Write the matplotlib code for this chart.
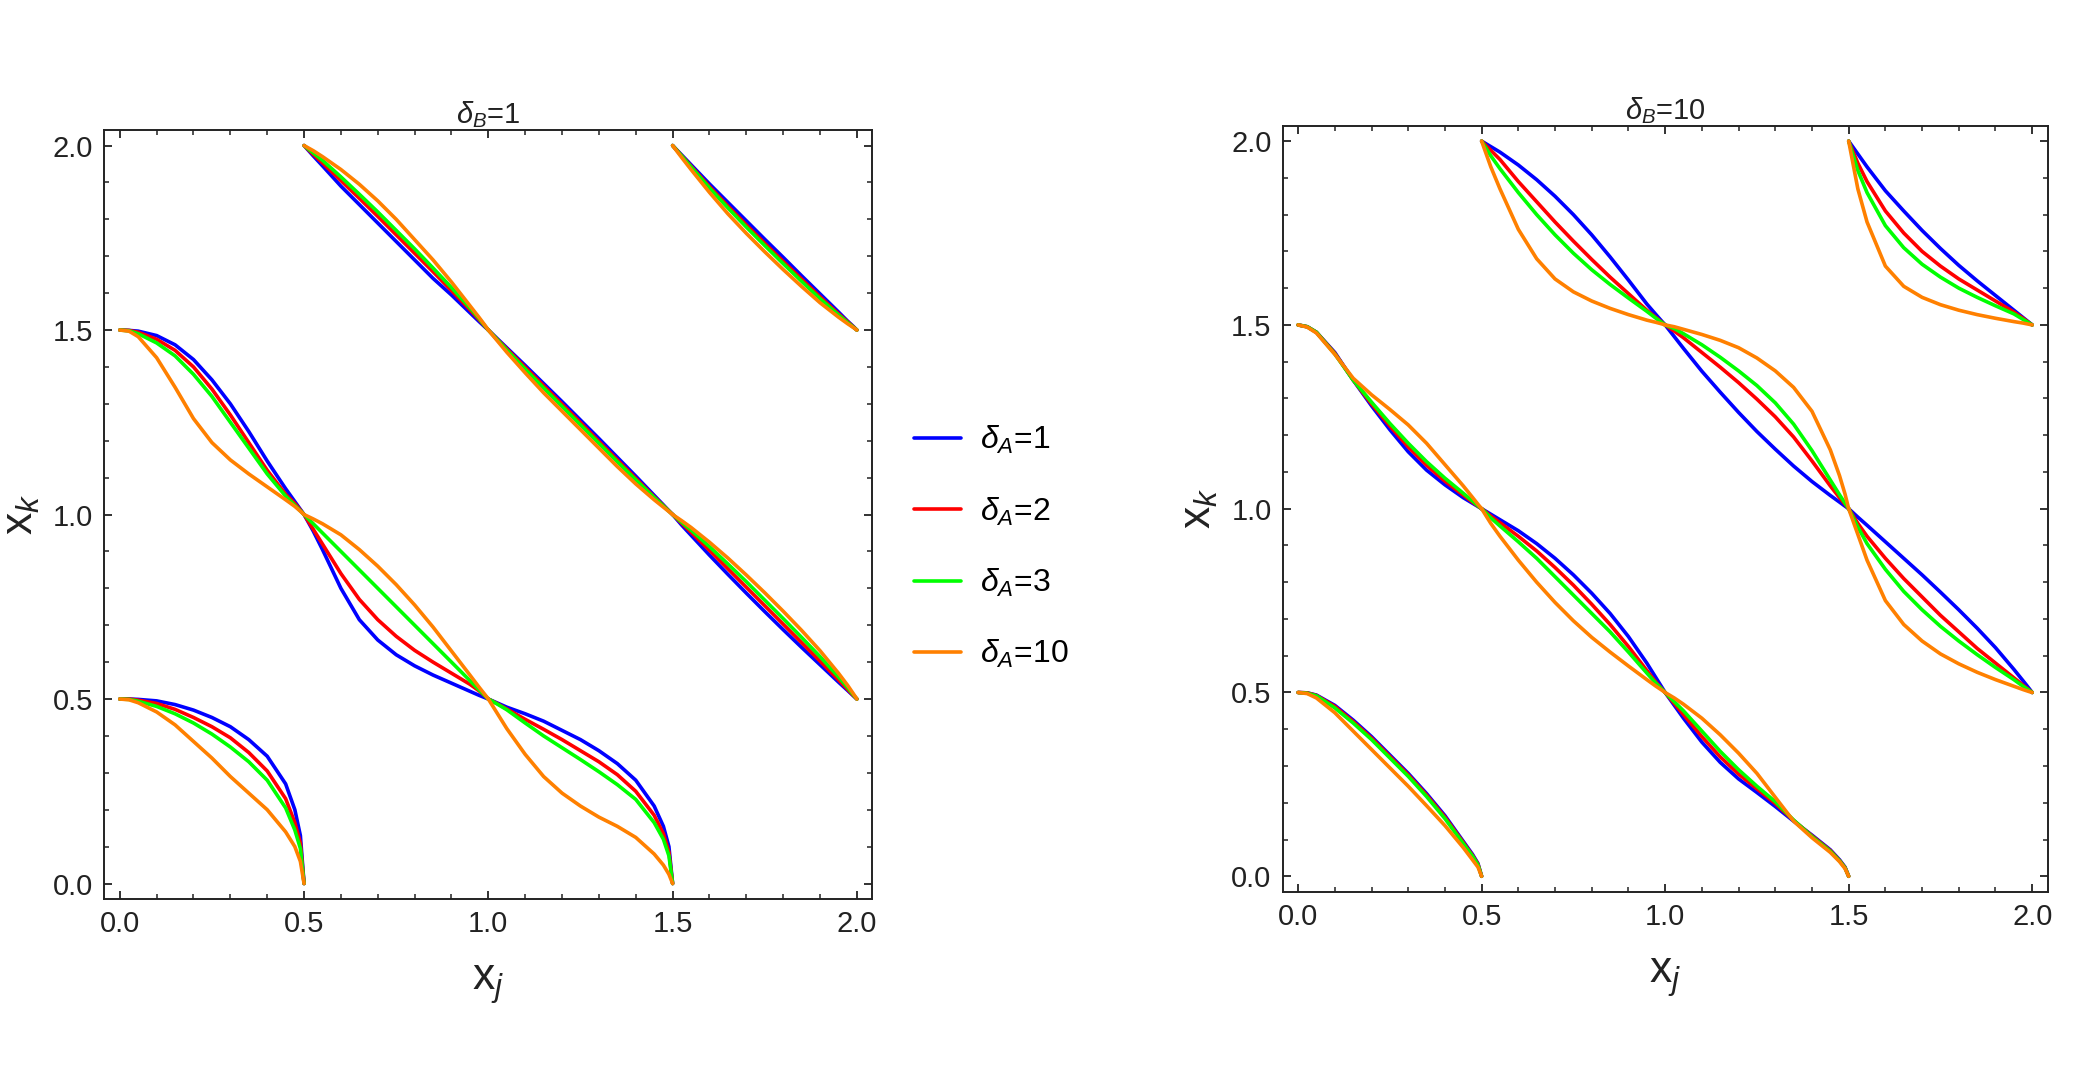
import numpy as np
import matplotlib
matplotlib.use('Agg')
import matplotlib.pyplot as plt
from matplotlib.ticker import MultipleLocator

plt.rcParams['font.family'] = ['Liberation Sans', 'DejaVu Sans']
plt.rcParams['mathtext.fontset'] = 'custom'
plt.rcParams['mathtext.rm'] = 'Liberation Sans'
plt.rcParams['mathtext.it'] = 'Liberation Sans:italic'

# x offsets inside each branch (each branch spans 0.5 in x_j)
offsets = [0, .025, .05, .1, .15, .2, .25, .3, .35, .4, .45, .475, .49, .5]
# start x_j of the 8 branches
seg_x0 = [0.0, 0.0, 0.5, 1.0, 0.5, 1.0, 1.5, 1.5]

deltaA = [1, 2, 3, 10]
colors = ['#0000ff', '#ff0000', '#00ff00', '#ff8000']

# delta_B = 1 : x_k values for each branch
p1_d1 = [
    [.5, .5, .499, .495, .485, .47, .45, .425, .39, .345, .27, .2, .13, 0],
    [1.5, 1.499, 1.497, 1.485, 1.46, 1.42, 1.365, 1.3, 1.225, 1.145, 1.07, 1.035, 1.014, 1.0],
    [1.0, .955, .905, .8, .715, .66, .62, .59, .565, .543, .521, .51, .504, .5],
    [.5, .489, .478, .46, .44, .415, .39, .36, .325, .28, .21, .155, .1, 0],
    [2.0, 1.972, 1.945, 1.89, 1.84, 1.79, 1.74, 1.69, 1.64, 1.595, 1.547, 1.523, 1.509, 1.5],
    [1.5, 1.476, 1.452, 1.404, 1.355, 1.306, 1.256, 1.206, 1.155, 1.104, 1.052, 1.026, 1.01, 1.0],
    [1.0, .971, .944, .89, .838, .787, .737, .688, .64, .593, .546, .523, .509, .5],
    [2.0, 1.974, 1.948, 1.896, 1.846, 1.796, 1.746, 1.697, 1.647, 1.598, 1.549, 1.524, 1.51, 1.5],
]
p1_d2 = [
    [.5, .5, .497, .488, .472, .45, .425, .395, .355, .305, .23, .165, .11, 0],
    [1.5, 1.499, 1.494, 1.475, 1.445, 1.4, 1.34, 1.27, 1.195, 1.12, 1.055, 1.03, 1.012, 1.0],
    [1.0, .96, .92, .84, .77, .715, .67, .632, .6, .57, .54, .522, .509, .5],
    [.5, .487, .473, .445, .418, .39, .36, .33, .295, .25, .185, .135, .085, 0],
    [2.0, 1.976, 1.953, 1.905, 1.857, 1.808, 1.758, 1.708, 1.658, 1.607, 1.555, 1.528, 1.511, 1.5],
    [1.5, 1.474, 1.449, 1.399, 1.349, 1.299, 1.249, 1.198, 1.148, 1.098, 1.048, 1.024, 1.01, 1.0],
    [1.0, .976, .952, .903, .853, .803, .753, .703, .653, .603, .552, .526, .51, .5],
    [2.0, 1.972, 1.944, 1.889, 1.836, 1.785, 1.735, 1.686, 1.638, 1.59, 1.544, 1.522, 1.509, 1.5],
]
p1_d3 = [
    [.5, .499, .494, .48, .46, .435, .405, .37, .33, .28, .205, .145, .095, 0],
    [1.5, 1.498, 1.49, 1.465, 1.43, 1.38, 1.32, 1.25, 1.18, 1.11, 1.05, 1.025, 1.01, 1.0],
    [1.0, .975, .95, .9, .85, .8, .75, .7, .65, .6, .55, .525, .51, .5],
    [.5, .486, .471, .435, .4, .368, .336, .303, .268, .228, .165, .12, .075, 0],
    [2.0, 1.98, 1.96, 1.915, 1.868, 1.82, 1.77, 1.72, 1.668, 1.615, 1.56, 1.531, 1.512, 1.5],
    [1.5, 1.473, 1.446, 1.394, 1.343, 1.293, 1.243, 1.193, 1.143, 1.094, 1.046, 1.023, 1.009, 1.0],
    [1.0, .979, .958, .913, .866, .818, .768, .718, .667, .615, .56, .531, .512, .5],
    [2.0, 1.971, 1.942, 1.885, 1.831, 1.779, 1.729, 1.68, 1.632, 1.585, 1.541, 1.52, 1.508, 1.5],
]
p1_d10 = [
    [.5, .498, .49, .465, .43, .385, .34, .29, .245, .2, .14, .1, .06, 0],
    [1.5, 1.497, 1.482, 1.425, 1.345, 1.26, 1.195, 1.148, 1.11, 1.075, 1.04, 1.022, 1.009, 1.0],
    [1.0, .988, .975, .945, .905, .86, .81, .755, .695, .63, .565, .532, .513, .5],
    [.5, .46, .42, .35, .29, .245, .21, .18, .155, .125, .08, .05, .025, 0],
    [2.0, 1.986, 1.97, 1.935, 1.895, 1.85, 1.8, 1.745, 1.69, 1.63, 1.566, 1.534, 1.514, 1.5],
    [1.5, 1.47, 1.44, 1.384, 1.33, 1.28, 1.23, 1.18, 1.13, 1.083, 1.04, 1.02, 1.008, 1.0],
    [1.0, .983, .965, .925, .882, .836, .788, .738, .686, .631, .57, .537, .515, .5],
    [2.0, 1.967, 1.935, 1.873, 1.815, 1.762, 1.712, 1.664, 1.618, 1.574, 1.535, 1.517, 1.507, 1.5],
]

# delta_B = 10
p2_d1 = [
    [.5, .499, .493, .465, .425, .38, .33, .28, .225, .165, .095, .06, .035, 0],
    [1.5, 1.495, 1.48, 1.425, 1.35, 1.28, 1.215, 1.155, 1.105, 1.065, 1.03, 1.015, 1.006, 1.0],
    [1.0, .985, .97, .94, .905, .865, .82, .77, .715, .652, .58, .54, .516, .5],
    [.5, .465, .43, .365, .31, .265, .228, .19, .15, .112, .072, .045, .025, 0],
    [2.0, 1.985, 1.97, 1.935, 1.895, 1.85, 1.8, 1.745, 1.685, 1.622, 1.557, 1.528, 1.511, 1.5],
    [1.5, 1.468, 1.436, 1.374, 1.317, 1.262, 1.21, 1.162, 1.116, 1.074, 1.036, 1.018, 1.007, 1.0],
    [1.0, .977, .955, .91, .865, .82, .773, .725, .675, .622, .563, .532, .513, .5],
    [2.0, 1.965, 1.93, 1.865, 1.81, 1.757, 1.708, 1.662, 1.62, 1.58, 1.54, 1.52, 1.508, 1.5],
]
p2_d2 = [
    [.5, .499, .492, .462, .421, .376, .326, .276, .221, .161, .092, .057, .033, 0],
    [1.5, 1.495, 1.48, 1.423, 1.35, 1.285, 1.225, 1.168, 1.118, 1.075, 1.037, 1.018, 1.007, 1.0],
    [1.0, .98, .962, .925, .885, .84, .792, .74, .685, .625, .56, .528, .511, .5],
    [.5, .47, .44, .38, .325, .278, .238, .198, .152, .11, .07, .043, .024, 0],
    [2.0, 1.975, 1.95, 1.89, 1.835, 1.78, 1.728, 1.678, 1.63, 1.585, 1.54, 1.52, 1.508, 1.5],
    [1.5, 1.483, 1.465, 1.425, 1.385, 1.343, 1.298, 1.25, 1.195, 1.13, 1.062, 1.03, 1.012, 1.0],
    [1.0, .96, .925, .865, .81, .76, .71, .665, .62, .58, .54, .52, .508, .5],
    [2.0, 1.94, 1.89, 1.81, 1.75, 1.7, 1.66, 1.625, 1.595, 1.565, 1.535, 1.518, 1.507, 1.5],
]
p2_d3 = [
    [.5, .498, .491, .458, .417, .372, .322, .272, .217, .157, .089, .055, .031, 0],
    [1.5, 1.495, 1.48, 1.421, 1.35, 1.29, 1.232, 1.178, 1.128, 1.083, 1.042, 1.021, 1.008, 1.0],
    [1.0, .975, .953, .91, .865, .815, .765, .715, .665, .61, .553, .525, .51, .5],
    [.5, .475, .45, .395, .34, .29, .245, .203, .153, .108, .068, .042, .023, 0],
    [2.0, 1.96, 1.925, 1.86, 1.8, 1.745, 1.695, 1.65, 1.61, 1.573, 1.537, 1.518, 1.507, 1.5],
    [1.5, 1.49, 1.476, 1.446, 1.412, 1.375, 1.335, 1.288, 1.23, 1.158, 1.078, 1.038, 1.015, 1.0],
    [1.0, .95, .905, .835, .775, .725, .68, .64, .603, .568, .535, .517, .507, .5],
    [2.0, 1.92, 1.86, 1.77, 1.71, 1.665, 1.63, 1.6, 1.575, 1.552, 1.53, 1.515, 1.506, 1.5],
]
p2_d10 = [
    [.5, .497, .485, .445, .395, .345, .295, .245, .192, .138, .078, .045, .025, 0],
    [1.5, 1.494, 1.478, 1.42, 1.355, 1.31, 1.27, 1.228, 1.178, 1.12, 1.062, 1.031, 1.012, 1.0],
    [1.0, .96, .925, .86, .8, .745, .695, .65, .61, .572, .535, .517, .507, .5],
    [.5, .485, .468, .43, .385, .335, .28, .215, .15, .105, .065, .04, .021, 0],
    [2.0, 1.93, 1.87, 1.76, 1.68, 1.625, 1.59, 1.565, 1.545, 1.528, 1.513, 1.507, 1.503, 1.5],
    [1.5, 1.495, 1.488, 1.474, 1.458, 1.438, 1.41, 1.375, 1.33, 1.265, 1.16, 1.09, 1.04, 1.0],
    [1.0, .93, .86, .75, .685, .64, .605, .578, .555, .535, .517, .508, .503, .5],
    [2.0, 1.87, 1.78, 1.66, 1.605, 1.575, 1.555, 1.54, 1.528, 1.518, 1.509, 1.505, 1.502, 1.5],
]

panels = [(r'$\delta_B$=1', [p1_d1, p1_d2, p1_d3, p1_d10]),
          (r'$\delta_B$=10', [p2_d1, p2_d2, p2_d3, p2_d10])]

fig = plt.figure(figsize=(20.86, 10.9), dpi=100)
ax1 = fig.add_axes([0.0500, 0.1752, 0.3682, 0.7055])
ax2 = fig.add_axes([0.6149, 0.1819, 0.3667, 0.7028])

off = np.array(offsets)
for ax, (title, series) in zip([ax1, ax2], panels):
    for k, branches in enumerate(series):
        for i, (x0, yk) in enumerate(zip(seg_x0, branches)):
            ax.plot(x0 + off, yk, color=colors[k], lw=2.6,
                    solid_capstyle='round', solid_joinstyle='round',
                    label=r'$\delta_A$=%d' % deltaA[k] if i == 0 else None)
    ax.set_xlim(-0.042, 2.042)
    ax.set_ylim(-0.042, 2.042)
    ax.xaxis.set_major_locator(MultipleLocator(0.5))
    ax.yaxis.set_major_locator(MultipleLocator(0.5))
    ax.xaxis.set_minor_locator(MultipleLocator(0.1))
    ax.yaxis.set_minor_locator(MultipleLocator(0.1))
    ax.xaxis.set_major_formatter('{x:.1f}')
    ax.yaxis.set_major_formatter('{x:.1f}')
    ax.tick_params(which='both', direction='in', top=True, right=True,
                   color='#222222', labelsize=21, labelcolor='#222222')
    ax.tick_params(which='major', length=6, width=1.3, pad=8)
    ax.tick_params(which='minor', length=3.5, width=1.1)
    for s in ax.spines.values():
        s.set_linewidth(1.4)
        s.set_color('#222222')
    ax.set_title(title, fontsize=21, pad=4, color='#222222')
    ax.set_xlabel(r'$\mathrm{x}_j$', fontsize=32, labelpad=18, color='#222222')
    ax.set_ylabel(r'$\mathrm{x}_k$', fontsize=32, labelpad=8, color='#222222')

h, l = ax1.get_legend_handles_labels()
fig.legend(h, l, loc='upper left', bbox_to_anchor=(0.438, 0.611),
           frameon=False, fontsize=23, handlelength=1.47, handletextpad=0.6,
           labelspacing=1.23, borderpad=0, borderaxespad=0)

fig.savefig('out.png', dpi=100)
